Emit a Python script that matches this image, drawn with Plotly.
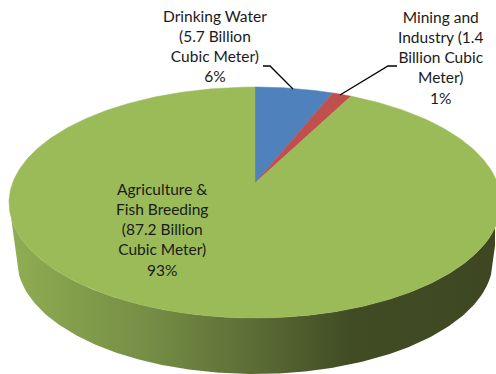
import numpy as np
import plotly.graph_objects as go

# --- data ---
categories = ["Drinking Water", "Mining and Industry", "Agriculture & Fish Breeding"]
values = [5.7, 1.4, 87.2]
colors = ["#4F81BD", "#C0504D", "#9BBB59"]
labels = [
    "Drinking Water<br>(5.7 Billion<br>Cubic Meter)<br>6%",
    "Mining and<br>Industry (1.4<br>Billion Cubic<br>Meter)<br>1%",
    "Agriculture &<br>Fish Breeding<br>(87.2 Billion<br>Cubic Meter)<br>93%",
]
label_pos = [(215, 46), (441, 57), (162, 229)]
leaders = [
    ([263, 270, 293], [66, 66, 89]),
    ([397, 388, 340], [66, 66, 95]),
]

# --- perspective geometry of the pie disc, in page pixels ---
CX, APEX_Y, TOP_Y, BOT_Y, HALF_W = 255.0, 183.0, 87.0, 318.0, 246.0
c = (2 * APEX_Y - TOP_Y - BOT_Y) / (BOT_Y - TOP_Y) * -1
a = TOP_Y * (1 + c) - APEX_Y
d = HALF_W * np.sqrt(1 - c * c)


def project(theta):
    sx, cz = np.sin(theta), np.cos(theta)
    den = 1 + c * cz
    return CX + d * sx / den, (APEX_Y + a * cz) / den


fig = go.Figure()

# side wall
ELL_CY, ELL_RY = (TOP_Y + BOT_Y) / 2, (BOT_Y - TOP_Y) / 2
B_CY, B_RX, B_RY = 260.0, 238.0, 114.0
xs = np.arange(CX - HALF_W, 497, 2.0)


def wall_lower(x):
    u = (x - CX) / B_RX
    if abs(u) <= 1:
        return B_CY + B_RY * np.sqrt(1 - u * u)
    s = (abs(x - CX) - HALF_W) / (B_RX - HALF_W)
    return ELL_CY + s * (B_CY - ELL_CY)


upper = ELL_CY + ELL_RY * np.sqrt(np.clip(1 - ((xs - CX) / HALF_W) ** 2, 0, 1))
lower = np.array([wall_lower(x) for x in xs])
fig.add_trace(go.Scatter(
    x=np.r_[xs, xs[::-1]], y=np.r_[lower, upper[::-1]],
    mode="lines", line=dict(width=0), fill="toself", hoverinfo="skip",
    fillgradient=dict(type="horizontal", colorscale=[
        [0.0, "#90AE53"], [0.12, "#84A04C"], [0.3, "#748C45"],
        [0.5, "#5C6D36"], [0.7, "#414C24"], [1.0, "#3E4722"],
    ]),
))

# top slices
start = 0.0
total = sum(values)
for name, v, col in zip(categories, values, colors):
    end = start + v / total * 2 * np.pi
    t = np.linspace(start, end, max(8, int(v * 6)))
    px, py = project(t)
    fig.add_trace(go.Scatter(
        x=np.r_[CX, px, CX], y=np.r_[APEX_Y, py, APEX_Y], name=name,
        mode="lines", line=dict(width=0.5, color=col), fill="toself", fillcolor=col,
        hoverinfo="name",
    ))
    start = end

# leader lines
for lx, ly in leaders:
    fig.add_trace(go.Scatter(x=lx, y=ly, mode="lines", hoverinfo="skip",
                             line=dict(color="#000000", width=1.3)))

for text, (x, y) in zip(labels, label_pos):
    fig.add_annotation(x=x, y=y, text=text, showarrow=False, xref="x", yref="y",
                       xanchor="center", yanchor="middle", align="center",
                       font=dict(family="Lato", size=15.5, color="#1a1a1a"))

fig.update_layout(
    width=496, height=374, margin=dict(l=0, r=0, t=0, b=0),
    paper_bgcolor="white", plot_bgcolor="white", showlegend=False,
    xaxis=dict(range=[0, 496], visible=False, fixedrange=True),
    yaxis=dict(range=[374, 0], visible=False, fixedrange=True),
)
fig.write_html("out.html", config={"displayModeBar": False},
               post_script="document.body.style.margin='0';document.body.style.overflow='hidden';")
